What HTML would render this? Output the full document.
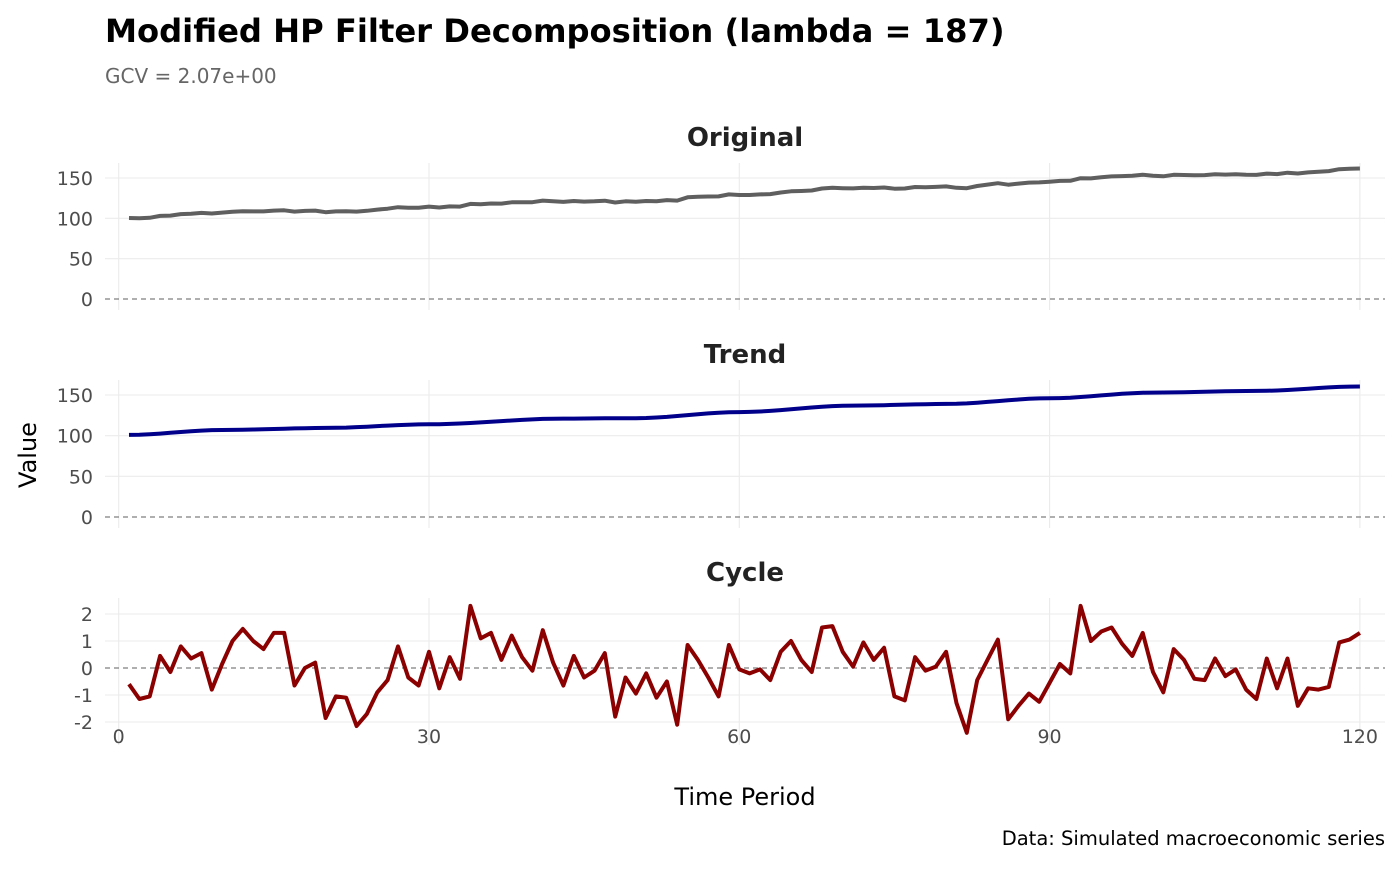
<!DOCTYPE html>
<html><head><meta charset="utf-8"><style>
body{margin:0;background:#fff;width:1400px;height:866px;overflow:hidden}
svg text{font-family:"DejaVu Sans","Liberation Sans",sans-serif}
</style></head><body>
<svg id="s" width="1400" height="866" xmlns="http://www.w3.org/2000/svg">
<text x="105" y="42" font-size="32.2" font-weight="bold" fill="#000">Modified HP Filter Decomposition (lambda = 187)</text>
<text x="105" y="83" font-size="20" fill="#666">GCV = 2.07e+00</text>
<text x="745" y="146" font-size="26" font-weight="bold" fill="#222" text-anchor="middle">Original</text>
<text x="745" y="363" font-size="26" font-weight="bold" fill="#222" text-anchor="middle">Trend</text>
<text x="745" y="581" font-size="26" font-weight="bold" fill="#222" text-anchor="middle">Cycle</text>
<text transform="translate(36,455) rotate(-90)" font-size="24" fill="#000" text-anchor="middle">Value</text>
<text x="745" y="805" font-size="24" fill="#000" text-anchor="middle">Time Period</text>
<text x="1385" y="845" font-size="19.5" fill="#000" text-anchor="end">Data: Simulated macroeconomic series</text>
<g id="g"></g>
</svg>
<script>
var c=[-0.6,-1.15,-1.05,0.45,-0.15,0.8,0.35,0.55,-0.8,0.15,1.0,1.45,1.0,0.7,1.3,1.3,-0.65,0,0.2,-1.85,-1.05,-1.1,-2.15,-1.7,-0.9,-0.45,0.8,-0.35,-0.65,0.6,-0.75,0.4,-0.4,2.3,1.1,1.3,0.3,1.2,0.4,-0.1,1.4,0.2,-0.65,0.45,-0.35,-0.1,0.55,-1.8,-0.35,-0.95,-0.2,-1.1,-0.5,-2.1,0.85,0.3,-0.35,-1.05,0.85,-0.05,-0.2,-0.05,-0.45,0.6,1.0,0.3,-0.15,1.5,1.55,0.6,0.05,0.95,0.3,0.75,-1.05,-1.2,0.4,-0.1,0.05,0.6,-1.3,-2.4,-0.45,0.3,1.05,-1.9,-1.4,-0.95,-1.25,-0.55,0.15,-0.2,2.3,1.0,1.35,1.5,0.9,0.45,1.3,-0.15,-0.9,0.7,0.3,-0.4,-0.45,0.35,-0.3,-0.05,-0.8,-1.15,0.35,-0.75,0.35,-1.4,-0.75,-0.8,-0.7,0.95,1.05,1.3];
var kt=[1,10,20,30,43,50,60,71,80,90,100,110,120],kv=[101,107,109.5,114,121,121.5,129,137,139,146,153,155,160.5];
function tr(t){for(var i=0;i<kt.length-1;i++){if(t<=kt[i+1]){var u=(t-kt[i])/(kt[i+1]-kt[i]);u=u*u*(3-2*u);return kv[i]+(kv[i+1]-kv[i])*u;}}return kv[kv.length-1];}
function X(t){return 118.7+t*10.343;}
var h='';
function panel(top,bot,ticks,y0,ppu,labels){
 for(var k=0;k<5;k++){var x=X(k*30);h+='<line x1="'+x+'" x2="'+x+'" y1="'+top+'" y2="'+bot+'" stroke="#ebebeb" stroke-width="1.1"/>';}
 ticks.forEach(function(v,i){var y=y0-v*ppu;if(v!==0)h+='<line x1="105" x2="1385" y1="'+y+'" y2="'+y+'" stroke="#ebebeb" stroke-width="1.1"/>';
 h+='<text x="93" y="'+(y+7)+'" font-size="19" fill="#4d4d4d" text-anchor="end">'+labels[i]+'</text>';});
 h+='<line x1="105" x2="1385" y1="'+y0+'" y2="'+y0+'" stroke="#7f7f7f" stroke-width="1.3" stroke-dasharray="5,4"/>';
}
panel(163,310,[0,50,100,150],299,121/150,['0','50','100','150']);
panel(380,528,[0,50,100,150],517,122/150,['0','50','100','150']);
panel(598,745,[-2,-1,0,1,2],668,27,['-2','-1','0','1','2']);
function line(f,y0,ppu,col){var p='';for(var t=1;t<=120;t++){p+=(t==1?'M':'L')+X(t).toFixed(1)+','+(y0-f(t)*ppu).toFixed(1);}h+='<path d="'+p+'" fill="none" stroke="'+col+'" stroke-width="4" stroke-linejoin="round"/>';}
line(function(t){return tr(t)+c[t-1];},299,121/150,'#5f5f5f');
line(tr,517,122/150,'#00008b');
line(function(t){return c[t-1];},668,27,'#8b0000');
[0,30,60,90,120].forEach(function(v){h+='<text x="'+X(v)+'" y="743" font-size="19" fill="#4d4d4d" text-anchor="middle">'+v+'</text>';});
document.getElementById('g').innerHTML=h;
</script>
</body></html>
